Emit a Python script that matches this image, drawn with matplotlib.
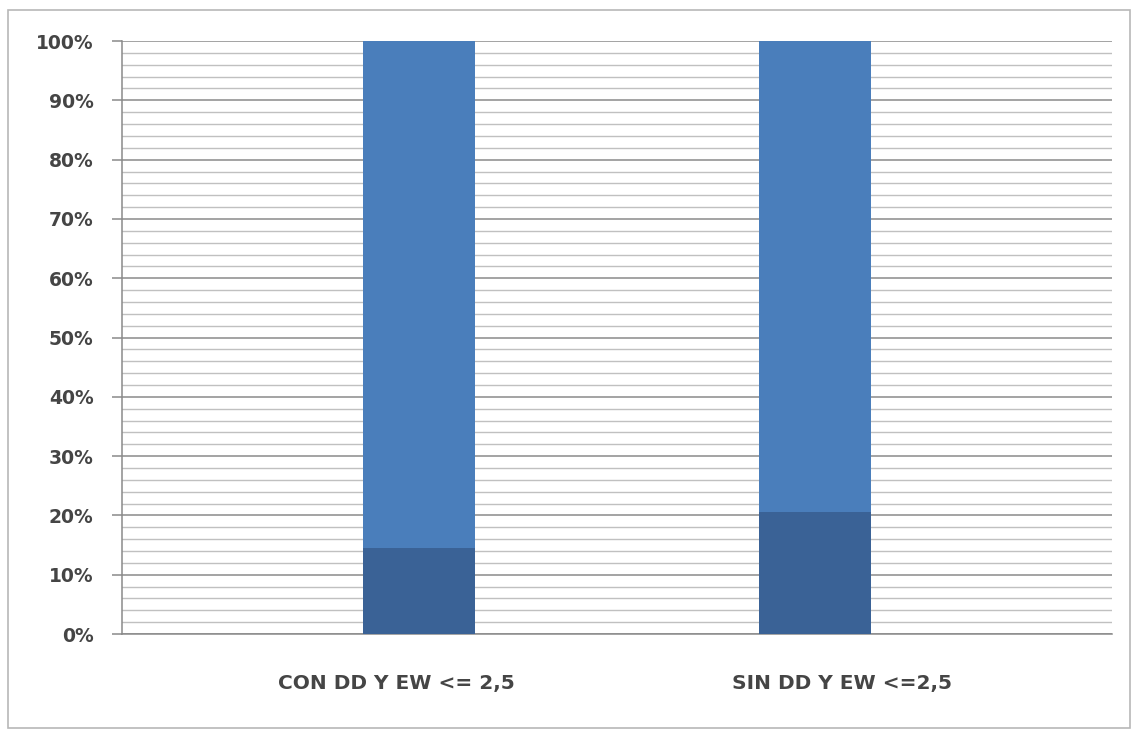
import matplotlib.pyplot as plt
from matplotlib.patches import Rectangle
from matplotlib.ticker import MultipleLocator, PercentFormatter

categories = ["CON DD Y EW <= 2,5", "SIN DD Y EW <=2,5"]
lower_share = [14.5, 20.6]
upper_share = [85.5, 79.4]

light_blue = "#4a7ebb"
dark_blue = "#3a6296"

plt.rcParams['font.family'] = ['DejaVu Sans']

fig = plt.figure(figsize=(11.36, 7.33), dpi=100)
ax = fig.add_axes([0.1074, 0.135, 0.8715, 0.809])

# chart area frame
fig.patches.append(Rectangle((8 / 1136, 5 / 733), 1122 / 1136, 718 / 733,
                             transform=fig.transFigure, fill=False,
                             edgecolor="#b8b8b8", linewidth=1.2))

x = list(range(len(categories)))
ax.bar(x, lower_share, width=0.283, color=dark_blue, zorder=3)
ax.bar(x, upper_share, width=0.283, bottom=lower_share, color=light_blue, zorder=3)

ax.set_xlim(-0.75, 1.75)
ax.set_ylim(0, 100)
ax.yaxis.set_major_locator(MultipleLocator(10))
ax.yaxis.set_minor_locator(MultipleLocator(2))
ax.yaxis.set_major_formatter(PercentFormatter(decimals=0))
ax.grid(which="major", axis="y", color="#8a8a8a", linewidth=1.1, zorder=0)
ax.grid(which="minor", axis="y", color="#c0c0c0", linewidth=1.0, zorder=0)

for side in ["top", "right"]:
    ax.spines[side].set_visible(False)
ax.spines["left"].set_color("#8a8a8a")
ax.spines["bottom"].set_color("#8a8a8a")
ax.spines["left"].set_linewidth(1.1)
ax.spines["bottom"].set_linewidth(1.1)

ax.tick_params(axis="y", which="major", length=7.5, width=1.1, color="#8a8a8a",
               pad=13, labelsize=13.5, labelcolor="#454545")
ax.tick_params(axis="y", which="minor", length=0)
for lbl in ax.get_yticklabels():
    lbl.set_fontweight("bold")
ax.set_xticks([])

# category labels sit slightly off the bar centres
label_x = [-0.058, 1.068]
for lx, name in zip(label_x, categories):
    ax.text(lx, -8.3, name, ha="center", va="center", fontsize=14.5,
            color="#454545", fontweight="bold")

fig.savefig("out.png", dpi=100)
